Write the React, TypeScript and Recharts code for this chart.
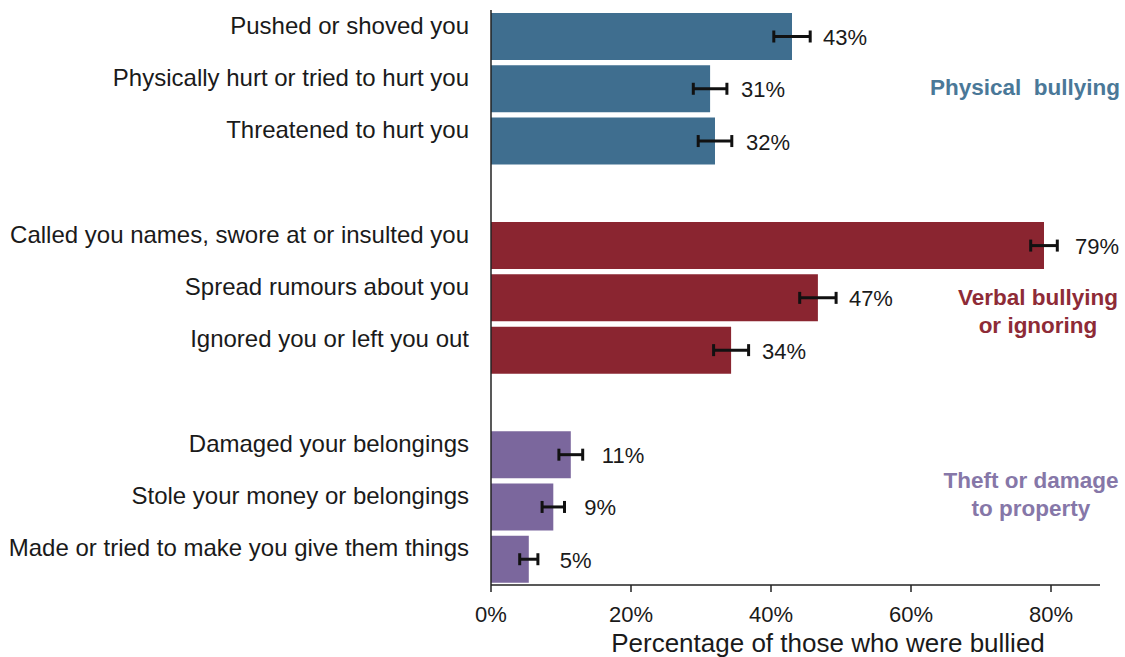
import React from "react";
import { BarChart, Bar, XAxis, YAxis, ErrorBar, Cell, LabelList } from "recharts";

const categories = [
  "Pushed or shoved you",
  "Physically hurt or tried to hurt you",
  "Threatened to hurt you",
  "",
  "Called you names, swore at or insulted you",
  "Spread rumours about you",
  "Ignored you or left you out",
  "",
  "Damaged your belongings",
  "Stole your money or belongings",
  "Made or tried to make you give them things",
];
const values: (number | null)[] = [43, 31.3, 32, null, 79, 46.7, 34.3, null, 11.4, 8.9, 5.4];
const errors: (number | null)[] = [2.6, 2.4, 2.4, null, 1.9, 2.6, 2.5, null, 1.7, 1.6, 1.3];
const valueLabels = ["43%", "31%", "32%", "", "79%", "47%", "34%", "", "11%", "9%", "5%"];
const groups = ["physical", "physical", "physical", "", "verbal", "verbal", "verbal", "", "theft", "theft", "theft"];
const xTicks = [0, 20, 40, 60, 80];

const barColors: Record<string, string> = {
  physical: "#3F6E8F",
  verbal: "#8A2530",
  theft: "#7B679D",
  "": "transparent",
};

const data = categories.map((c, i) => ({
  name: c === "" ? `__gap${i}` : c,
  value: values[i],
  err: errors[i],
  label: valueLabels[i],
  group: groups[i],
}));

const FONT = "'Liberation Sans', Arial, sans-serif";

const CategoryTick = (props: any) => {
  const { x, y, payload } = props;
  const text = String(payload.value).startsWith("__gap") ? "" : payload.value;
  return (
    <text x={x} y={y - 11} textAnchor="end" dominantBaseline="central" fontSize={24} fill="#1a1a1a" fontFamily={FONT}>
      {text}
    </text>
  );
};

const ValueLabel = (props: any) => {
  const { x, y, width, height, value } = props;
  if (!value) return null;
  return (
    <text x={x + width + 31} y={y + height / 2 + 1} dominantBaseline="central" fontSize={22} fill="#1a1a1a" fontFamily={FONT}>
      {value}
    </text>
  );
};

const groupLabelStyle: React.CSSProperties = {
  position: "absolute",
  fontFamily: FONT,
  fontWeight: "bold",
  fontSize: 22.5,
  lineHeight: "28px",
  textAlign: "center",
  whiteSpace: "pre",
};

export default function App() {
  return (
    <div style={{ position: "absolute", left: 0, top: 0, width: 1125, height: 657, background: "#fff", fontFamily: FONT }}>
      <BarChart
        width={1125}
        height={657}
        data={data}
        layout="vertical"
        margin={{ top: 10, right: 25, bottom: 0, left: 0 }}
      >
        <XAxis
          type="number"
          domain={[0, 87]}
          ticks={xTicks}
          allowDataOverflow
          tickFormatter={(v: number) => `${v}%`}
          height={72}
          tickSize={7}
          tickMargin={14}
          stroke="#222"
          strokeWidth={1.5}
          tick={{ fontSize: 22, fill: "#1a1a1a", fontFamily: FONT }}
        />
        <YAxis
          type="category"
          dataKey="name"
          width={491}
          tickSize={0}
          tickMargin={22}
          tickLine={false}
          stroke="#222"
          strokeWidth={1.5}
          tick={<CategoryTick />}
          interval={0}
        />
        <Bar dataKey="value" barSize={47} isAnimationActive={false}>
          {data.map((d, i) => (
            <Cell key={i} fill={barColors[d.group]} />
          ))}
          <ErrorBar dataKey="err" direction="x" width={6} stroke="#111" strokeWidth={3} />
          <LabelList dataKey="label" content={<ValueLabel />} />
        </Bar>
      </BarChart>
      <div style={{ ...groupLabelStyle, left: 925, top: 74, width: 200, color: "#4A7898" }}>{"Physical  bullying"}</div>
      <div style={{ ...groupLabelStyle, left: 948, top: 284, width: 180, color: "#8E2B37" }}>{"Verbal bullying\nor ignoring"}</div>
      <div style={{ ...groupLabelStyle, left: 941, top: 467, width: 180, color: "#8677A8" }}>{"Theft or damage\nto property"}</div>
      <div style={{ position: "absolute", left: 578, top: 628, width: 500, textAlign: "center", fontSize: 26, lineHeight: "30px", color: "#1a1a1a", fontFamily: FONT }}>
        Percentage of those who were bullied
      </div>
    </div>
  );
}
